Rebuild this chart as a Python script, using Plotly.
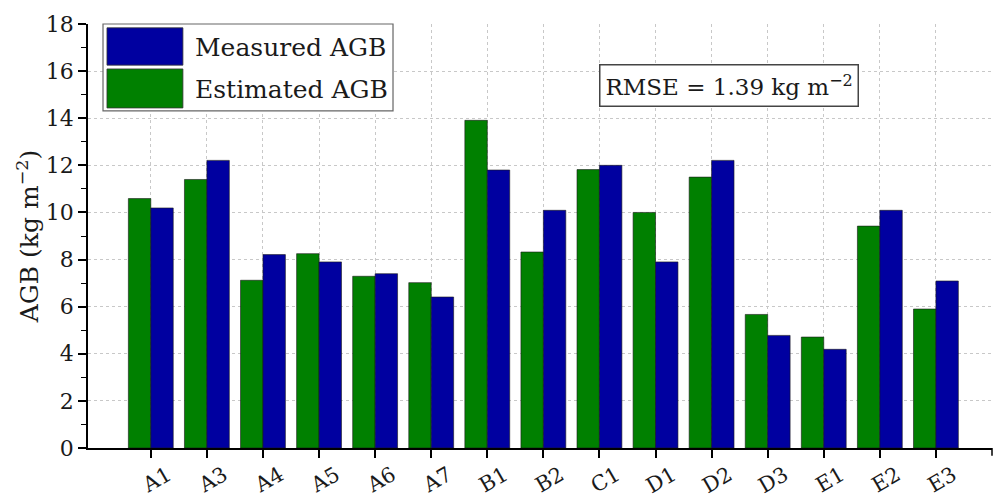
"""Grouped bar chart: estimated vs measured AGB per plot"""
import plotly.graph_objects as go

# Data
plots = ["A1", "A3", "A4", "A5", "A6", "A7", "B1", "B2",
         "C1", "D1", "D2", "D3", "E1", "E2", "E3"]
estimated = [10.59, 11.40, 7.12, 8.25, 7.29, 7.02, 13.91, 8.32,
             11.82, 10.00, 11.50, 5.67, 4.71, 9.42, 5.90]
measured = [10.19, 12.21, 8.21, 7.90, 7.40, 6.41, 11.80, 10.09,
            12.00, 7.90, 12.21, 4.78, 4.19, 10.09, 7.09]
y_ticks = list(range(0, 19, 2))

GREEN = "#008000"
BLUE = "#0000A0"
FONT = "DejaVu Serif"
TEXT = "#1a1a1a"

fig = go.Figure()
fig.add_trace(go.Bar(x=plots, y=estimated, name="Estimated AGB",
                     marker=dict(color=GREEN, line=dict(color="#1a1a1a", width=0.6))))
fig.add_trace(go.Bar(x=plots, y=measured, name="Measured AGB",
                     marker=dict(color=BLUE, line=dict(color="#1a1a1a", width=0.6))))

fig.update_layout(
    width=997, height=494,
    margin=dict(l=88, r=5, t=24, b=46),
    paper_bgcolor="white", plot_bgcolor="white",
    barmode="group", bargap=0.2, bargroupgap=0,
    showlegend=False,
    font=dict(family=FONT, color=TEXT, size=20),
)

fig.update_xaxes(
    range=[-1.12, 15.0], automargin=False,
    showline=True, linecolor="black", linewidth=1.5,
    ticks="outside", ticklen=8, tickwidth=1.5, tickcolor="black",
    tickangle=-30, tickfont=dict(size=21),
    ticklabelshift=17, ticklabelstandoff=-3,
    showgrid=True, gridcolor="#c8c8c8", griddash="dot", gridwidth=1,
)
fig.update_yaxes(
    range=[0, 18], tickvals=y_ticks, automargin=False,
    showline=True, linecolor="black", linewidth=1.5,
    ticks="outside", ticklen=8, tickwidth=1.5, tickcolor="black",
    minor=dict(dtick=1, ticks="outside", ticklen=5, tickwidth=1.2, tickcolor="black", showgrid=False),
    showgrid=True, gridcolor="#c8c8c8", griddash="dot", gridwidth=1,
    zeroline=False,
    tickfont=dict(size=22),
    title=dict(text="AGB (kg m<sup>−2</sup>)", font=dict(size=25), standoff=0),
)

# tick at the right end of the x axis
fig.add_shape(type="line", xref="paper", yref="paper", x0=1, x1=1, y0=0, y1=-0.018,
              line=dict(color="black", width=1.5))

# legend drawn by hand (large swatches)
fig.add_shape(type="rect", xref="paper", yref="paper", x0=0.0166, x1=0.3374, y0=0.795, y1=1.0,
              line=dict(color="#666", width=1.2), fillcolor="white", layer="above")
fig.add_shape(type="rect", xref="paper", yref="paper", x0=0.021, x1=0.105, y0=0.903, y1=0.991,
              line=dict(color="#333", width=0.8), fillcolor=BLUE, layer="above")
fig.add_shape(type="rect", xref="paper", yref="paper", x0=0.021, x1=0.105, y0=0.802, y1=0.894,
              line=dict(color="#333", width=0.8), fillcolor=GREEN, layer="above")
fig.add_annotation(xref="paper", yref="paper", x=0.116, y=0.945, xanchor="left", yanchor="middle",
                   text="Measured AGB", showarrow=False, font=dict(size=25, family=FONT, color=TEXT))
fig.add_annotation(xref="paper", yref="paper", x=0.116, y=0.846, xanchor="left", yanchor="middle",
                   text="Estimated AGB", showarrow=False, font=dict(size=25, family=FONT, color=TEXT))

# RMSE box
fig.add_annotation(xref="paper", yref="paper", x=0.709, y=0.854, xanchor="center", yanchor="middle",
                   text="RMSE = 1.39 kg m<sup>−2</sup>", showarrow=False,
                   font=dict(size=23, family=FONT, color=TEXT),
                   bordercolor="#444", borderwidth=1.5, borderpad=5, bgcolor="white")

# drop the default body margin so the figure sits at the window origin
fig.write_html("out.html", config={"displayModeBar": False},
               post_script="document.body.style.margin='0';")
